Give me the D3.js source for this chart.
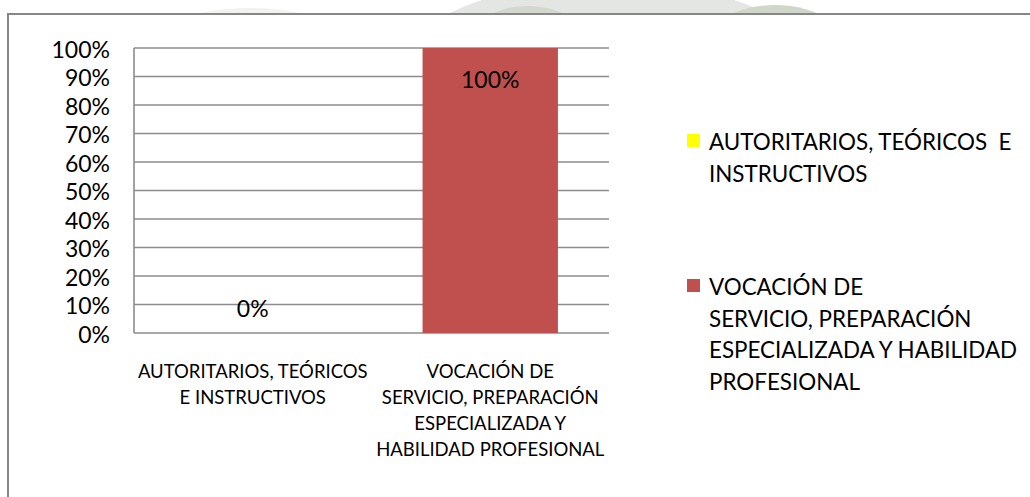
<!DOCTYPE html>
<html>
<head>
<meta charset="utf-8">
<script src="https://cdn.jsdelivr.net/npm/d3@7"></script>
<style>
  body { margin: 0; background: #fff; }
  svg text { font-family: Lato, "Open Sans", sans-serif; fill: #000; }
</style>
</head>
<body>
<div id="chart"></div>
<script>
var svgWidth = 1030;
var svgHeight = 497;

// chart data
var categories = ["AUTORITARIOS, TEÓRICOS E INSTRUCTIVOS",
                  "VOCACIÓN DE SERVICIO, PREPARACIÓN ESPECIALIZADA Y HABILIDAD PROFESIONAL"];
var values = [0, 1];
var valueLabels = ["0%", "100%"];
var barColors = ["#ffff00", "#c0504d"];
var yTicks = [0, 0.1, 0.2, 0.3, 0.4, 0.5, 0.6, 0.7, 0.8, 0.9, 1];
var axisLines = [
  ["AUTORITARIOS, TEÓRICOS", "E INSTRUCTIVOS"],
  ["VOCACIÓN DE", "SERVICIO, PREPARACIÓN", "ESPECIALIZADA Y", "HABILIDAD PROFESIONAL"]
];
var legendLines = [
  ["AUTORITARIOS, TEÓRICOS  E", "INSTRUCTIVOS"],
  ["VOCACIÓN DE", "SERVICIO, PREPARACIÓN", "ESPECIALIZADA Y HABILIDAD", "PROFESIONAL"]
];

var plot = { left: 134, top: 48, right: 609, bottom: 333 };

var svg = d3.select("#chart")
  .append("svg")
  .attr("width", svgWidth)
  .attr("height", svgHeight);

// faint watermark peeking above the frame
var wm = svg.append("g");
wm.append("ellipse")
  .attr("cx", 608).attr("cy", 120).attr("rx", 245).attr("ry", 140)
  .attr("fill", "#e3e6e2");
wm.append("ellipse")
  .attr("cx", 528).attr("cy", 40).attr("rx", 56).attr("ry", 34)
  .attr("fill", "#d3d8cf");
wm.append("ellipse")
  .attr("cx", 775).attr("cy", 60).attr("rx", 80).attr("ry", 55)
  .attr("fill", "#d0d6ca");
wm.append("ellipse")
  .attr("cx", 250).attr("cy", 20).attr("rx", 60).attr("ry", 12)
  .attr("fill", "#f2f3f1");

// white chart area + frame
svg.append("rect")
  .attr("x", 8).attr("y", 14)
  .attr("width", svgWidth).attr("height", svgHeight)
  .attr("fill", "#fff")
  .attr("stroke", "#878787")
  .attr("stroke-width", 2);

var xScale = d3.scaleBand()
  .domain(categories)
  .range([plot.left, plot.right])
  .paddingInner(0.43)
  .paddingOuter(0.215);

var xBand = d3.scaleBand()
  .domain(categories)
  .range([plot.left, plot.right]);

var yScale = d3.scaleLinear()
  .domain([0, 1])
  .range([plot.bottom, plot.top]);

// gridlines
svg.append("g")
  .selectAll("line")
  .data(yTicks)
  .enter()
  .append("line")
  .attr("x1", plot.left)
  .attr("x2", plot.right)
  .attr("y1", d => yScale(d))
  .attr("y2", d => yScale(d))
  .attr("stroke", "#8c8c8c")
  .attr("stroke-width", 1.6);

// y axis line
svg.append("line")
  .attr("x1", plot.left).attr("x2", plot.left)
  .attr("y1", plot.top).attr("y2", plot.bottom)
  .attr("stroke", "#8c8c8c")
  .attr("stroke-width", 1.6);

// y tick labels
var leftAxis = d3.axisLeft(yScale)
  .tickValues(yTicks)
  .tickFormat(d3.format(".0%"))
  .tickSize(0)
  .tickPadding(24);

var yAxisG = svg.append("g")
  .attr("transform", `translate(${plot.left}, 2)`)
  .call(leftAxis);
yAxisG.select(".domain").remove();
yAxisG.selectAll("text")
  .style("font-family", "Lato, sans-serif")
  .style("font-size", "23px")
  .attr("fill", "#000");

// bars
svg.append("g")
  .selectAll("rect")
  .data(values)
  .enter()
  .append("rect")
  .attr("x", (d, i) => xScale(categories[i]))
  .attr("y", d => yScale(d))
  .attr("width", xScale.bandwidth())
  .attr("height", d => yScale(0) - yScale(d))
  .attr("fill", (d, i) => barColors[i]);

// data labels
svg.append("g")
  .selectAll("text")
  .data(values)
  .enter()
  .append("text")
  .attr("x", (d, i) => xBand(categories[i]) + xBand.bandwidth() / 2)
  .attr("y", d => d >= 1 ? yScale(d) + 32 : yScale(d) - 24)
  .attr("dy", "0.35em")
  .attr("text-anchor", "middle")
  .style("font-size", "23px")
  .text((d, i) => valueLabels[i]);

// category labels
axisLines.forEach(function(lines, i) {
  svg.append("text")
    .attr("text-anchor", "middle")
    .style("font-size", "18.5px")
    .selectAll("tspan")
    .data(lines)
    .enter()
    .append("tspan")
    .attr("x", xBand(categories[i]) + xBand.bandwidth() / 2)
    .attr("y", (d, j) => 372 + j * 25.7)
    .attr("dy", "0.35em")
    .text(d => d);
});

// legend
var legendTop = [142, 287];
legendLines.forEach(function(lines, i) {
  svg.append("rect")
    .attr("x", 687)
    .attr("y", legendTop[i] - 8)
    .attr("width", 13)
    .attr("height", 13)
    .attr("fill", barColors[i]);

  svg.append("text")
    .style("font-size", "22.4px")
    .style("white-space", "pre")
    .selectAll("tspan")
    .data(lines)
    .enter()
    .append("tspan")
    .attr("x", 709)
    .attr("y", (d, j) => legendTop[i] + j * 31.8)
    .attr("dy", "0.35em")
    .text(d => d);
});
</script>
</body>
</html>
